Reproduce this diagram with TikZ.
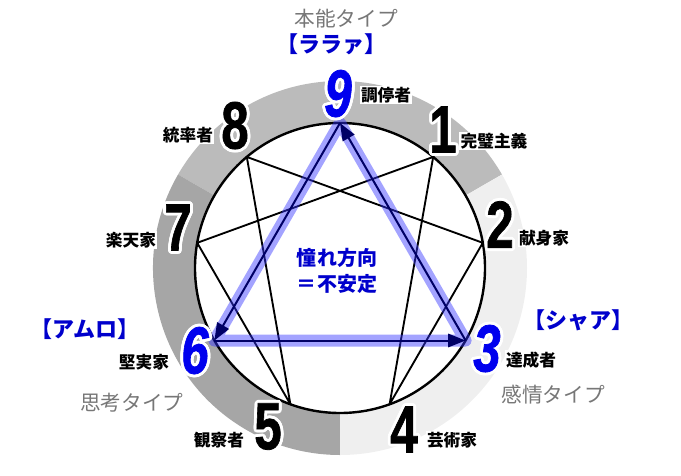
\documentclass[tikz,border=0pt]{standalone}
\usepackage{fontspec}
\setmainfont{Liberation Sans}
\newfontfamily\jpfont{Noto Sans CJK JP}
\newfontfamily\numfont[FakeBold=1.2]{Liberation Sans Bold}
\newfontfamily\numitfont[FakeBold=1.2]{Liberation Sans Bold Italic}
\usepackage{contour}
\contourlength{2.2pt}
\usetikzlibrary{arrows.meta}

\definecolor{ringtop}{HTML}{BBBBBB}
\definecolor{ringleft}{HTML}{A6A6A6}
\definecolor{ringright}{HTML}{EFEFEF}
\definecolor{navy}{HTML}{000066}
\definecolor{bandblue}{HTML}{3333FF}
\definecolor{numblue}{HTML}{0000EE}
\definecolor{typegray}{HTML}{777777}
\definecolor{nickblue}{HTML}{0000CC}

% narrow number with a white rim
\newcommand\rimnum[1]{\contour{white}{\scalebox{.74}[1]{#1}}}

\begin{document}
\begin{tikzpicture}[x=.75pt,y=.75pt,
    num/.style={font=\numfont\fontsize{50}{50}\selectfont, inner sep=0pt},
    bluenum/.style={num, font=\numitfont\fontsize{50}{50}\selectfont, text=numblue},
    role/.style={font=\jpfont\bfseries\fontsize{12.5}{14}\selectfont, fill=white, inner sep=1pt},
    kind/.style={font=\jpfont\fontsize{15.5}{17}\selectfont, text=typegray},
    nick/.style={font=\jpfont\bfseries\fontsize{16.5}{18}\selectfont, text=nickblue},
    band/.style={line width=9pt, draw=bandblue, opacity=.45, line join=round, line cap=round},
    flow/.style={line width=1.5pt, navy, -{Triangle[length=13pt,width=10pt]}}]
    \useasboundingbox (-340,-207) rectangle (341,268);
    % ring of the three centres
    \fill[ringtop] (30:187) arc (30:150:187) -- (150:145) arc (150:30:145) -- cycle;
    \fill[ringleft] (150:187) arc (150:270:187) -- (270:145) arc (270:150:145) -- cycle;
    \fill[ringright] (270:187) arc (270:390:187) -- (30:145) arc (390:270:145) -- cycle;
    \draw[line width=1.8pt, fill=white] (0,0) circle (145);
    \foreach \k in {1,...,9}
        \coordinate (p\k) at ({90-40*\k}:145);
    \draw[line width=1.4pt, line join=round] (p1) -- (p4) -- (p2) -- (p8) -- (p5) -- (p7) -- cycle;
    % triangle 9-6-3
    \draw[band] (p9) -- (p6) -- (p3) -- cycle;
    \draw[flow] (p9) -- (p6);
    \draw[flow] (p6) -- (p3);
    \draw[flow] (p3) -- (p9);
    \node[font=\jpfont\bfseries\fontsize{15}{20}\selectfont, text=nickblue, align=center] (center) at (-3,-3) {憧れ方向\\＝不安定};
    % numbers
    \node[bluenum] (n9) at (-2,173) {\rimnum{9}};
    \node[num] (n1) at (103,137) {\rimnum{1}};
    \node[num] (n2) at (160,42) {\rimnum{2}};
    \node[bluenum] (n3) at (147,-82) {\rimnum{3}};
    \node[num] (n4) at (64,-163) {\rimnum{4}};
    \node[num] (n5) at (-72,-160) {\rimnum{5}};
    \node[bluenum] (n6) at (-145,-84) {\rimnum{6}};
    \node[num] (n7) at (-162,39) {\rimnum{7}};
    \node[num] (n8) at (-105,141) {\rimnum{8}};
    % roles
    \node[role] (r9) at (46,173) {調停者};
    \node[role] (r1) at (154,127) {完璧主義};
    \node[role] (r2) at (204,30) {献身家};
    \node[role] (r3) at (191,-92) {達成者};
    \node[role] (r4) at (112,-172) {芸術家};
    \node[role] (r5) at (-121,-172) {観察者};
    \node[role] (r6) at (-196,-94) {堅実家};
    \node[role] (r7) at (-209,28) {楽天家};
    \node[role] (r8) at (-152,133) {統率者};
    % centres and names
    \node[kind] (gut) at (6,249) {本能タイプ};
    \node[kind] (head) at (-208,-135) {思考タイプ};
    \node[kind] (heart) at (213,-127) {感情タイプ};
    \node[nick] (lalah) at (-9,224) {【ララァ】};
    \node[nick] (amuro) at (-255,-61) {【アムロ】};
    \node[nick] (char) at (238,-52) {【シャア】};
\end{tikzpicture}
\end{document}
